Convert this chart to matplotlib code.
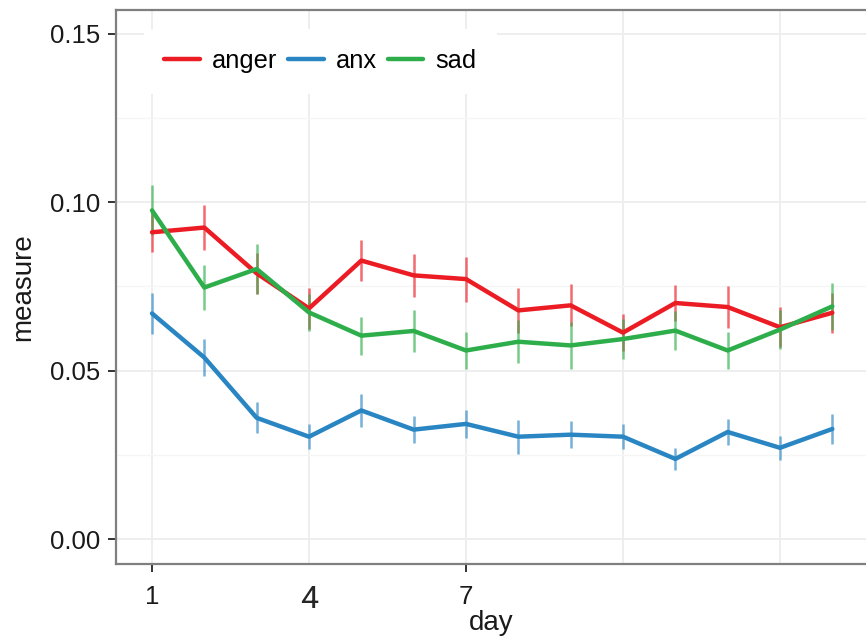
import numpy as np
import matplotlib
matplotlib.use("Agg")
import matplotlib.pyplot as plt
from matplotlib.ticker import FixedLocator

plt.rcParams['font.family'] = ['Liberation Sans', 'DejaVu Sans']

# daily means and standard errors per emotion
days = np.arange(1, 15)
anger = [0.0911, 0.0925, 0.0789, 0.0685, 0.0827, 0.0783, 0.0772, 0.0679, 0.0694,
         0.0613, 0.0701, 0.0689, 0.0629, 0.0672]
anx = [0.0670, 0.0539, 0.0360, 0.0304, 0.0382, 0.0325, 0.0342, 0.0304, 0.0310,
       0.0304, 0.0238, 0.0318, 0.0271, 0.0327]
sad = [0.0976, 0.0747, 0.0802, 0.0673, 0.0604, 0.0618, 0.0560, 0.0586, 0.0575,
       0.0594, 0.0619, 0.0560, 0.0622, 0.0691]
anger_se = [0.0060, 0.0068, 0.0060, 0.0060, 0.0062, 0.0064, 0.0067, 0.0067, 0.0062,
            0.0055, 0.0052, 0.0062, 0.0060, 0.0060]
anx_se = [0.0060, 0.0055, 0.0046, 0.0037, 0.0048, 0.0039, 0.0042, 0.0050, 0.0040,
          0.0037, 0.0032, 0.0040, 0.0035, 0.0045]
sad_se = [0.0074, 0.0068, 0.0074, 0.0055, 0.0056, 0.0062, 0.0055, 0.0064, 0.0069,
          0.0060, 0.0057, 0.0054, 0.0057, 0.0070]

series = [('anger', anger, anger_se, '#EC1C24'),
          ('anx', anx, anx_se, '#2A86C3'),
          ('sad', sad, sad_se, '#2EAE4B')]

W, H = 866, 636
fig = plt.figure(figsize=(W / 100, H / 100), dpi=100)
left, right, top, bottom = 116, 870, 10, 564
ax = fig.add_axes([left / W, 1 - bottom / H, (right - left) / W, (bottom - top) / H])

for name, vals, se, col in series:
    v = np.array(vals)
    e = np.array(se)
    ax.vlines(days, v - e, v + e, color=col, alpha=0.65, lw=1.8, zorder=3)
for name, vals, se, col in series:
    ax.plot(days, vals, color=col, lw=3.2, label=name, zorder=4,
            solid_joinstyle='round', solid_capstyle='round')

ax.set_xlim(0.312, 14.72)
ax.set_ylim(-0.0074, 0.1571)

ax.set_xticks([1, 4, 7, 10, 13])
ax.set_xticklabels(['1', '4', '7', '', ''])
ax.set_yticks([0, 0.05, 0.10, 0.15])
ax.set_yticklabels(['0.00', '0.05', '0.10', '0.15'])
ax.yaxis.set_minor_locator(FixedLocator([0.025, 0.075, 0.125]))

ax.grid(which='major', color='#ededed', lw=1.3, zorder=0)
ax.grid(which='minor', axis='y', color='#f5f5f5', lw=1.0, zorder=0)
ax.set_axisbelow(True)

ax.tick_params(axis='both', which='major', labelsize=18.5, colors='#333333',
               length=6, width=1.4, labelcolor='#1a1a1a')
ax.tick_params(axis='x', pad=9)
ax.tick_params(axis='y', pad=5)
ax.tick_params(which='minor', length=0)

# the "4" label is set apart: no tick mark, larger and thinner
xt = ax.xaxis.get_major_ticks()
for i in (1, 3, 4):
    xt[i].tick1line.set_visible(False)
lab4 = xt[1].label1
lab4.set_fontsize(23)
lab4.set_family(['Roboto', 'DejaVu Sans'])
lab4.set_fontweight('normal')
lab4.set_color('#262626')
lab4.set_x(3.9)

for sp in ax.spines.values():
    sp.set_color('#7f7f7f')
    sp.set_linewidth(1.6)

ax.set_xlabel('day', fontsize=20, color='#1a1a1a', labelpad=2)
ax.set_ylabel('measure', fontsize=20, color='#1a1a1a', labelpad=10)
ax.xaxis.set_label_coords((491 - left) / (right - left), -0.083)

leg = ax.legend(loc='upper left', bbox_to_anchor=(0.037, 0.9657), ncol=3,
                fontsize=18.3, frameon=True, facecolor='white', edgecolor='none',
                framealpha=1, borderpad=0.8, borderaxespad=0, handlelength=1.4,
                handletextpad=0.47, columnspacing=0.43)
for ln in leg.get_lines():
    ln.set_linewidth(3.2)
leg.set_zorder(5)

fig.savefig('out.png', dpi=100)
